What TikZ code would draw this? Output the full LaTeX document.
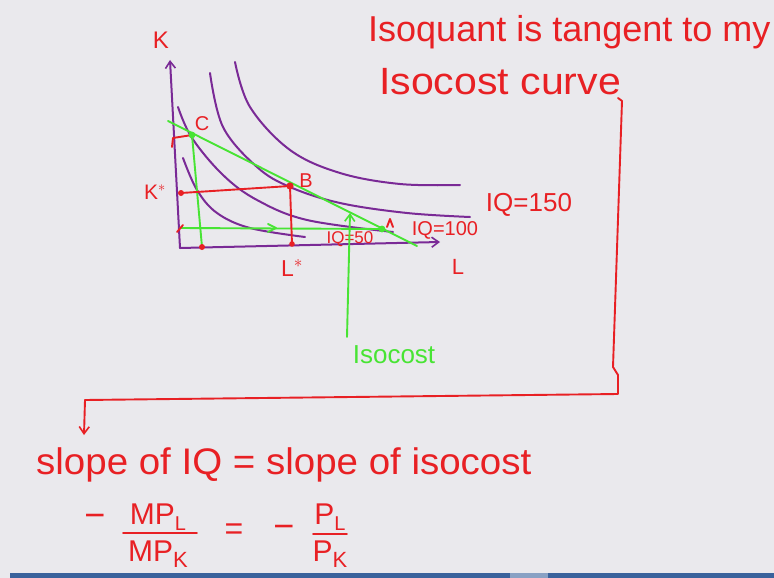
\documentclass[tikz,border=0pt]{standalone}
\usepackage{fontspec}
\setmainfont{Liberation Sans}
\usetikzlibrary{arrows.meta}
\definecolor{bgc}{RGB}{234,233,237}
\definecolor{pen}{RGB}{232,32,36}
\definecolor{purp}{RGB}{122,42,150}
\definecolor{grn}{RGB}{72,228,52}
\definecolor{barc}{RGB}{58,98,156}
\newcommand\hsz[1]{\fontsize{#1}{#1}\selectfont}
\newcommand\lowsub[2]{\raisebox{-0.2em}{\hsz{#1}#2}}
\begin{document}
\begin{tikzpicture}[x=1pt,y=-1pt,
  redline/.style={draw=pen, line width=1.9pt, line cap=round, line join=round},
  purline/.style={draw=purp, line width=2pt, line cap=round, line join=round},
  grnline/.style={draw=grn, line width=1.9pt, line cap=round, line join=round},
  redtext/.style={text=pen, inner sep=0pt},
  grntext/.style={text=grn, inner sep=0pt},
  tipv/.style={-{Straight Barb[length=7pt,width=10pt,line width=1.6pt]}},
  reddot/.style={fill=pen},
  grndot/.style={fill=grn}]
\clip (0,0) rectangle (774,578);
\fill[bgc] (0,0) rectangle (774,578);
\fill[barc] (10,573) rectangle (774,578);
\fill[barc!60!white] (510,573) rectangle (548,578);

% axes
\coordinate (O) at (180,248);
\coordinate (Ktop) at (170,60);
\coordinate (Lend) at (440,242);
\draw[purline,tipv] (O) -- (Ktop);
\draw[purline,tipv] (O) -- (Lend);
\node[redtext,anchor=center] (Klab) at (161,40) {\hsz{24}K};
\node[redtext,anchor=center] (Llab) at (458,267) {\hsz{22}L};

% isoquants
\draw[purline] plot[smooth,tension=0.6] coordinates {(183,158) (197,190) (217,213) (250,228) (305,237)};
\draw[purline] plot[smooth,tension=0.6] coordinates {(178,107) (192,138) (223,175) (257,200) (307,220) (393,232)};
\draw[purline] plot[smooth,tension=0.6] coordinates {(210,73) (223,127) (257,167) (290,187) (340,203) (407,213) (470,217)};
\draw[purline] plot[smooth,tension=0.6] coordinates {(235,62) (250,107) (290,150) (340,173) (400,184) (460,185)};

% isocost line
\coordinate (G1) at (168,121);
\coordinate (G2) at (417,246);
\draw[grnline] (G1) -- (G2);
\coordinate (C) at (192,135);
\coordinate (B) at (290,186);
\coordinate (E) at (382,229);
% green verticals / horizontals
\coordinate (Cb) at (202,247);
\draw[grnline] (C) -- (Cb);
\coordinate (Hl) at (180,228);
\draw[grnline] (Hl) -- (E);
\draw[grnline] (268,224) -- (276,228) -- (268,232);
% red lines
\coordinate (Ks) at (181,193);
\coordinate (Bb) at (292,244);
\draw[redline] (Ks) -- (B);
\draw[redline] (B) -- (Bb);
\draw[redline] (172,147) -- (173,138) -- (C);
\draw[redline] (177,232) -- (183,225);
\draw[redline] (387,227) -- (390,219) -- (393,227);
\fill[reddot] (Ks) circle (3);
\fill[reddot] (B) circle (3.6);
\fill[reddot] (Bb) circle (2.8);
\fill[reddot] (Cb) circle (3);
\fill[grndot] (C) circle (3.4);
\fill[grndot] (E) circle (3.4);

% point labels
\node[redtext] (Clab) at (202,124) {\hsz{20}C};
\node[redtext] (Blab) at (306,181) {\hsz{20}B};
\node[redtext] (Kslab) at (155,192) {\hsz{21}K$^{\ast}$};
\node[redtext] (Lslab) at (292,268) {\hsz{23}L$^{\ast}$};
\node[redtext] (iq50) at (350,239) {\hsz{17}IQ=50};
\node[redtext] (iq100) at (445,230) {\hsz{20}IQ=100};
\node[redtext] (iq150) at (529,205) {\hsz{26}IQ=150};

% isocost pointer
\node[grntext] (isoc) at (394,355) {\hsz{26}Isocost};
\coordinate (ptop) at (350,213);
\draw[grnline,tipv] (347,337) -- (ptop);

% top texts
\node[redtext,anchor=base west] (top) at (368,42) {\hsz{36}Isoquant is tangent to my};
\node[redtext,anchor=base west] (curve) at (379,95) {\hsz{38}\scalebox{1.08}[1]{Isocost curve}};

% connector
\coordinate (c1) at (618,98);
\coordinate (c0) at (622,101);
\coordinate (c2) at (613,367);
\coordinate (c3) at (618,375);
\coordinate (c4) at (618,394);
\coordinate (c5) at (85,400);
\coordinate (c6) at (84,435);
\draw[redline] (c1) -- (c0) -- (c2) -- (c3) -- (c4) -- (c5);
\draw[redline,tipv] (c5) -- (c6);

% bottom
\node[redtext,anchor=base west] (slope) at (36,474) {\hsz{37}\scalebox{1.04}[1]{slope of IQ = slope of isocost}};
\node[redtext] (m1) at (95,521) {\hsz{36}−};
\node[redtext,anchor=base] (n1) at (158,524) {\hsz{30}MP\lowsub{20}{L}};
\node[redtext,anchor=base] (d1) at (158,561) {\hsz{30}MP\lowsub{22}{K}};
\draw[redline] (123,533) -- (197,533);
\node[redtext] (eq) at (234,532) {\hsz{32}=};
\node[redtext] (m2) at (284,532) {\hsz{36}−};
\node[redtext,anchor=base] (n2) at (330,524) {\hsz{30}P\lowsub{20}{L}};
\node[redtext,anchor=base] (d2) at (330,561) {\hsz{30}P\lowsub{22}{K}};
\draw[redline] (313,534) -- (347,534);
\end{tikzpicture}
\end{document}
